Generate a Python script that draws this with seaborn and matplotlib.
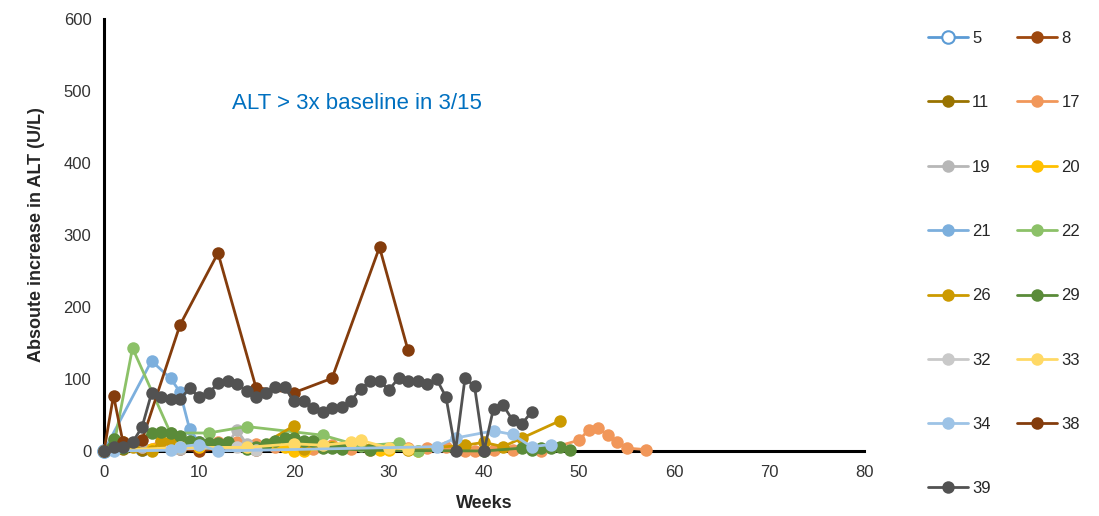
import numpy as np
import pandas as pd
import matplotlib
matplotlib.use("Agg")
import matplotlib.pyplot as plt
import seaborn as sns

# ---- data ----
w5 = [0, 4]
v5 = [0, 3]
w8 = [0, 4, 8, 10, 12, 16]
v8 = [0, 5, 3, 0, 3, 2]
w11 = [0, 2, 4]
v11 = [0, 3, 2]
w17 = [0, 2, 4, 6, 8, 10, 12, 14, 16, 18, 20, 22, 24, 26, 28, 30, 32, 34, 36, 38, 39, 41, 43, 46, 50, 51, 52, 53, 54, 55, 57]
v17 = [0, 5, 5, 12, 12, 12, 12, 12, 10, 5, 5, 3, 8, 3, 2, 3, 4, 4, 5, 0, 0, 2, 2, 0, 15, 29, 32, 22, 13, 4, 2]
w19 = [0, 4, 8, 12, 13, 14, 15, 20]
v19 = [0, 5, 3, 8, 10, 29, 10, 5]
w20 = [0, 5, 10, 19, 20, 21, 24, 29, 30, 33]
v20 = [0, 3, 5, 5, 0, 0, 5, 2, 2, 0]
w21 = [0, 5, 7, 8, 9, 10]
v21 = [0, 125, 101, 82, 31, 12]
w22 = [0, 1, 3, 7, 11, 15, 23, 27, 31, 33]
v22 = [0, 5, 143, 25, 25, 34, 22, 7, 11, 0]
w26 = [0, 2, 3, 5, 6, 7, 8, 10, 16, 20, 21, 24, 28, 32, 38, 40, 42, 44, 48]
v26 = [0, 12, 5, 0, 14, 14, 12, 8, 4, 35, 3, 5, 3, 2, 8, 12, 6, 18, 42]
w29 = [0, 1, 2, 5, 6, 7, 8, 9, 10, 11, 12, 13, 15, 16, 17, 18, 19, 20, 21, 22, 23, 24, 25, 28, 40, 44, 45, 46, 47, 48, 49]
v29 = [0, 17, 4, 25, 26, 25, 21, 14, 12, 11, 11, 12, 3, 5, 10, 14, 18, 18, 14, 14, 4, 4, 3, 1, 0, 4, 1, 4, 4, 6, 1]
w32 = [0, 14, 16]
v32 = [0, 5, 2]
w33 = [0, 8, 15, 20, 23, 26, 27, 30, 32]
v33 = [0, 5, 5, 10, 8, 12, 15, 4, 3]
w34 = [0, 1, 7, 8, 10, 12, 35, 37, 41, 43, 45, 47]
v34 = [0, 0, 1, 6, 9, 0, 6, 18, 28, 23, 6, 9]
w38 = [0, 1, 2, 4, 8, 12, 16, 20, 24, 29, 32]
v38 = [0, 77, 12, 15, 175, 275, 88, 81, 101, 283, 140]
w39 = list(range(0, 46))
v39 = [0, 5, 5, 12, 33, 80, 75, 72, 72, 87, 75, 80, 94, 97, 93, 83, 75, 80, 89, 89,
       69, 69, 60, 54, 60, 61, 70, 86, 97, 97, 85, 101, 97, 97, 93, 100, 75, 0, 101, 90,
       0, 59, 64, 43, 38, 54]

series_names = ["5", "8", "11", "17", "19", "20", "21", "22", "26", "29", "32", "33", "34", "38", "39"]
series_weeks = [w5, w8, w11, w17, w19, w20, w21, w22, w26, w29, w32, w33, w34, w38, w39]
series_vals = [v5, v8, v11, v17, v19, v20, v21, v22, v26, v29, v32, v33, v34, v38, v39]
colors = ["#5B9BD5", "#9E480E", "#997300", "#F1975A", "#B7B7B7", "#FFC000", "#7CAFDD",
          "#8CC168", "#CC9A00", "#5A8B39", "#C9C9C9", "#FFD966", "#9DC3E6", "#843C0C", "#525252"]

x_ticks = [0, 10, 20, 30, 40, 50, 60, 70, 80]
y_ticks = [0, 100, 200, 300, 400, 500, 600]

sns.set_style("white")
plt.rcParams["font.family"] = ["Liberation Sans", "DejaVu Sans"]

fig = plt.figure(figsize=(10.99, 5.16), dpi=100)
ax = fig.add_axes([104 / 1099, 1 - 451 / 516, 760 / 1099, 432 / 516])

for name, wk, vals, col in zip(series_names, series_weeks, series_vals, colors):
    df = pd.DataFrame({"Weeks": wk, "ALT": vals})
    mfc = "white" if name == "5" else col
    sns.lineplot(data=df, x="Weeks", y="ALT", ax=ax, color=col, marker="o",
                 markersize=9, markerfacecolor=mfc, markeredgecolor=col,
                 markeredgewidth=1.5 if name == "5" else 0,
                 linewidth=2.0, estimator=None, sort=False, label=name, clip_on=False)

ax.set_xlim(0, 80)
ax.set_ylim(0, 600)
ax.set_xticks(x_ticks)
ax.set_yticks(y_ticks)
ax.tick_params(axis="x", length=0, labelsize=12, colors="#333333", pad=10)
ax.tick_params(axis="y", length=5, width=2, direction="out", labelsize=12, colors="#333333", pad=4)
for s in ["top", "right"]:
    ax.spines[s].set_visible(False)
for s in ["left", "bottom"]:
    ax.spines[s].set_linewidth(2.2)
    ax.spines[s].set_color("black")
    ax.spines[s].set_zorder(0.5)

ax.set_xlabel("Weeks", fontsize=13, fontweight="bold", labelpad=11)
ax.set_ylabel("Absoute increase in ALT (U/L)", fontsize=13, fontweight="bold")
ax.yaxis.set_label_coords(-0.077, 0.5)

ax.text(13.5, 483, "ALT > 3x baseline in 3/15", color="#0070C0", fontsize=16,
        ha="left", va="center")

handles, labels = ax.get_legend_handles_labels()
if ax.get_legend():
    ax.get_legend().remove()
# row-major order in two columns -> reorder for column-major filling
col1 = [0, 2, 4, 6, 8, 10, 12, 14]
col2 = [1, 3, 5, 7, 9, 11, 13]
order = col1 + col2
fig.legend([handles[i] for i in order], [labels[i] for i in order],
           loc="upper left", bbox_to_anchor=(928 / 1099, 1 - 31 / 516), ncol=2,
           frameon=False, fontsize=12, labelspacing=2.96, handlelength=2.4,
           handletextpad=0.25, columnspacing=1.6, borderpad=0, borderaxespad=0)

fig.savefig("out.png", dpi=100)
